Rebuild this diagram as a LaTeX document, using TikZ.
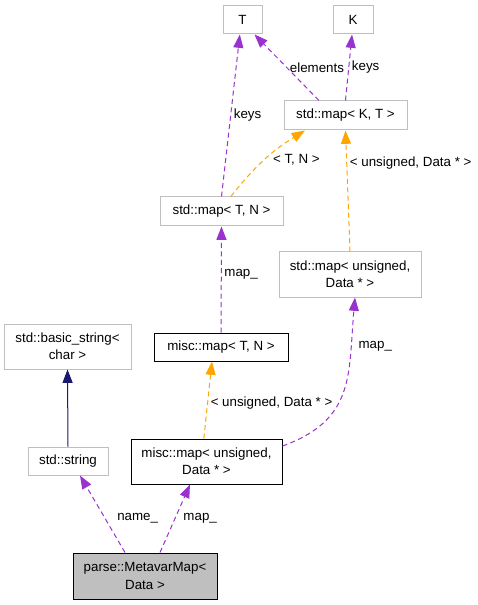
\documentclass[tikz,border=0pt]{standalone}
\usepackage{fontspec}
\setmainfont{Liberation Sans}
\usetikzlibrary{arrows.meta, positioning}

\definecolor{grey75}{HTML}{BFBFBF}
\definecolor{darkorchid3}{HTML}{9A32CD}
\definecolor{orangeedge}{HTML}{FFA500}
\definecolor{midnightblue}{HTML}{191970}

\begin{document}
\begin{tikzpicture} [x = 0.75pt, y = -0.75pt, font = \fontsize{10}{13}\selectfont,
    cls/.style = {draw = grey75, line width = 0.75pt, inner sep = 0pt, align = center, minimum height = 21pt},
    doc/.style = {cls, draw = black},
    two/.style = {minimum height = 33.75pt},
    lbl/.style = {right, inner sep = 2pt, text = black},
    arr/.style = {line width = 0.75pt, -{Triangle[length = 10pt, width = 7.5pt]}},
    mem/.style = {arr, darkorchid3, dash pattern = on 3.75pt off 2.6pt},
    tpl/.style = {arr, orangeedge, dash pattern = on 3.75pt off 2.6pt},
    inh/.style = {arr, midnightblue}]

\useasboundingbox (0,0) rectangle (477,605);

\node (t)    [cls, minimum width = 29.25pt] at (242.5,20) {T};
\node (k)    [cls, minimum width = 30pt] at (353,20) {K};
\node (mkt)  [cls, minimum width = 92.25pt, minimum height = 21.75pt] at (345.5,115.5) {std::map< K, T >};
\node (mtn)  [cls, minimum width = 92.25pt, minimum height = 21.75pt] at (221.5,211.5) {std::map< T, N >};
\node (mud)  [cls, two, minimum width = 106.5pt] at (350,274.5) {std::map< unsigned,\\Data * >};
\node (bs)   [cls, two, minimum width = 95.25pt] at (67.5,346.5) {std::basic\_string<\\char >};
\node (mmtn) [doc, minimum width = 100.5pt] at (221,347) {misc::map< T, N >};
\node (str)  [cls, minimum width = 60pt] at (68,461) {std::string};
\node (mmud) [doc, two, minimum width = 113.25pt] at (206.5,461.5) {misc::map< unsigned,\\Data * >};
\node (mvm)  [doc, two, fill = grey75, minimum width = 108pt, minimum height = 34.5pt] at (145,576) {parse::MetavarMap<\\Data >};

\path [mem]
    ([xshift = -19.9pt]mkt.north) edge node [lbl] {elements} ([xshift = 9pt]t.south)
    (mkt.north) edge node [lbl] {keys} ([xshift = -0.75pt]k.south)
    (mtn.north) edge node [lbl] {keys} ([xshift = -2pt]t.south)
    (mmtn.north) edge node [lbl, pos = 0.55] {map\_} (mtn.south)
    ([yshift = 11.6pt]mmud.east) edge [out = 20, in = -95, looseness = 1.2] node [lbl, pos = 0.77, xshift = 3pt] {map\_} ([xshift = 3.75pt]mud.south)
    ([xshift = -15pt]mvm.north) edge node [lbl, pos = 0.45, xshift = 7pt] {name\_} ([xshift = 9pt]str.south)
    ([xshift = 11.25pt]mvm.north) edge node [lbl, pos = 0.5, xshift = 4pt] {map\_} ([xshift = -12.4pt]mmud.south);
\path [tpl]
    ([xshift = 7pt]mtn.north) edge [bend left = 10] node [lbl, xshift = 4pt] {< T, N >} ([xshift = -30.4pt]mkt.south)
    (mud.north) edge node [lbl, pos = 0.73] {< unsigned, Data * >} (mkt.south)
    ([xshift = -2pt]mmud.north) edge node [lbl, pos = 0.46] {< unsigned, Data * >} ([xshift = -6.75pt]mmtn.south);
\path [inh]
    (str.north) edge (bs.south);

\end{tikzpicture}
\end{document}
